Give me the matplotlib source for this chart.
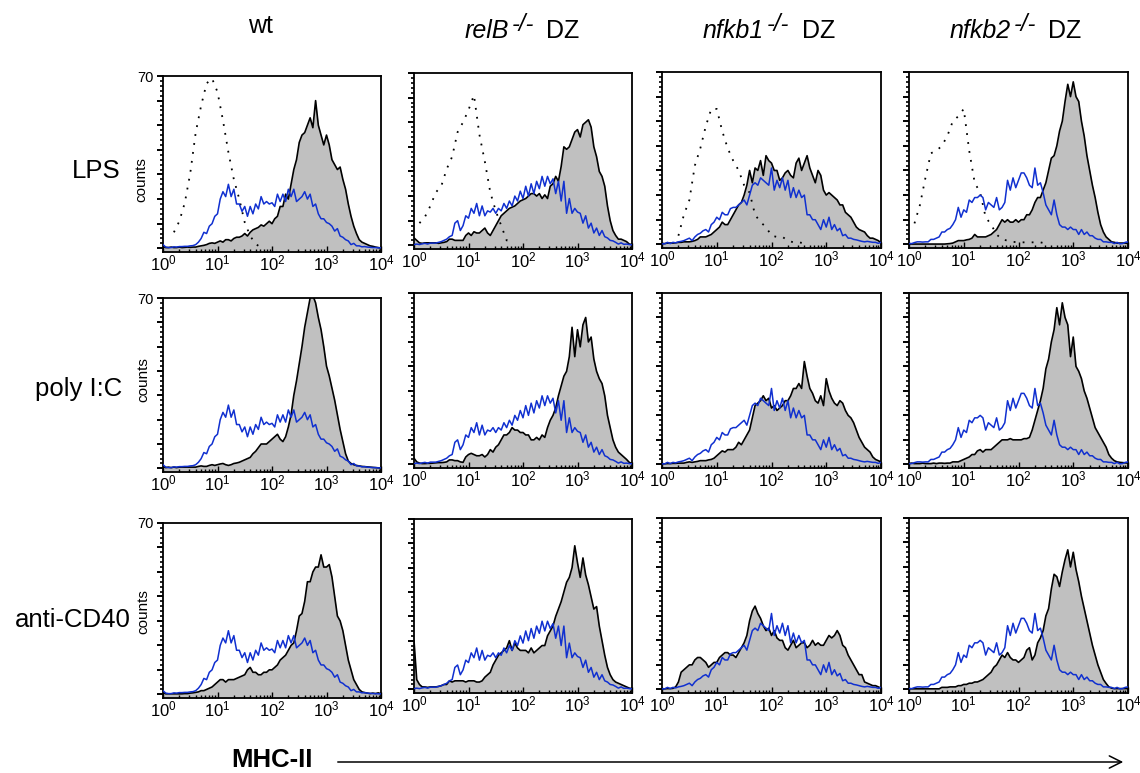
import numpy as np
import matplotlib
matplotlib.use('Agg')
import matplotlib.pyplot as plt
from matplotlib.patches import FancyArrowPatch
from matplotlib.ticker import FixedLocator, NullFormatter

plt.rcParams['font.family'] = ['Liberation Sans', 'DejaVu Sans']
plt.rcParams['mathtext.fontset'] = 'custom'
plt.rcParams['mathtext.rm'] = 'Liberation Sans'

W, H = 1140, 773

# all histograms read every 0.05 decade from 10^0 to 10^4
# blue control is the same in each column
blue_wt = [1.5, .5, .3, .3, .6, .5, .7, .7, .8, .8, 1, 1.1, 1.5, 2.5, 4, 6.5, 6, 9, 10, 13, 14, 20, 23, 21, 26, 21, 24, 18, 18, 15, 17, 13, 17, 14, 18, 16, 21, 18, 19, 18, 18.5, 17, 22, 19, 22, 19, 24, 21, 24, 19, 20, 21, 23, 20, 22, 17, 18, 14, 12, 12, 10.5, 10, 9, 7, 8, 5, 4.5, 3.5, 3, 1.5, 2, 1, 1, .6, .7, .5, .4, .3, .3, .2, .2]
blue_relb = [.3, .5, .3, .6, .8, .5, .9, .9, .9, 1.2, 1.5, 2, 2.5, 3.5, 4, 9, 10, 6, 8, 12, 11, 15, 13, 17, 12, 16, 12, 14, 13.5, 15, 13, 15, 14, 17, 15, 18, 16, 20, 18, 22, 19, 24, 20, 25, 21, 26, 23, 28, 24, 28, 25, 27, 21, 26, 18, 26, 13, 19, 13, 15, 13.5, 13, 9, 12, 7, 9, 5, 7, 4, 6, 3.5, 3, 2, 1.8, 1.2, .5, 1, .4, .5, .3, .2]
blue_nfkb1 = [.2, .2, .8, .3, .8, .6, 1, 1.2, 1.5, 2, 2.5, 1.5, 3, 4, 4.5, 5.5, 6, 5, 8, 9, 11, 10, 13, 12, 12, 14.5, 15, 15, 16, 17, 18, 16, 20, 24, 25, 24, 27, 26, 25, 24, 31, 22, 26, 23, 27, 22, 26, 19, 23, 19, 22, 19, 20, 12, 12, 10, 10, 8, 6, 10, 7, 11, 6, 8, 5.5, 6.5, 3.5, 4, 2.5, 2.5, 2, 1.8, 1.5, 1.2, 1, 1.2, 1, .8, .8, .4, .8]
blue_nfkb2 = [.3, .3, .7, 1, 1, .9, 1, 1, 2, 2, 2.5, 3, 5, 5, 6, 6.5, 8, 10, 15, 11, 14, 13, 18, 17, 19, 19, 20, 19, 14, 17, 16, 15, 19, 14, 15, 17, 26, 22, 27, 23, 26, 29, 29, 27, 24, 23, 31, 24, 25, 21, 16, 14, 12, 18, 12, 8, 7, 7, 6, 7, 6, 6, 4, 6, 4, 5, 3.5, 3.5, 2.5, 2, 2, 1, 1, .8, .8, .3, .8, .2, .3, .8, 1]

# grey filled histograms
lps_wt = [.8, .3, .3, .5, .3, .3, .5, .3, .4, .5, .4, .5, .5, .8, 1, 1.2, 1.5, 2, 2.2, 2, 2.5, 3, 2.5, 3.5, 3.5, 3, 4, 4.5, 4.5, 5, 6, 5, 6.5, 7.5, 8, 8.5, 9.5, 9, 10, 11, 10, 12, 13, 17, 17, 22, 20, 26, 32, 36, 43, 46, 47, 50, 53, 49, 60, 50, 46, 42, 46, 42, 36, 34, 32, 33, 28, 24, 18, 13, 9, 6, 3.5, 2.5, 2, 1.5, 1, .8, .5, .3, .1]
lps_relb = [3, 2, 1, .8, 1, 1, 1, 1, 1, .8, 1, 1.2, 1.5, 2.5, 2.5, 2, 2, 2, 2, 4, 5, 4, 5.5, 5, 5, 6, 7, 5, 4, 6, 8, 10, 12, 13, 14, 15, 15.5, 16, 17, 18, 18.5, 19, 20, 21, 21, 20, 21, 19, 20.5, 19, 24, 25, 28, 26, 32, 40, 39, 40, 43, 46, 47, 44, 49, 50, 51, 48, 40, 36, 30, 28, 24, 16, 10, 6, 4, 2.5, 2.5, 2, 1.5, .5, .3]
lps_nfkb1 = [.3, .3, .5, .5, .5, .6, .8, .8, 1, 1, 1, 1.2, 1.5, 2, 3, 3, 3, 3.5, 4, 5, 6, 7, 9, 8, 8, 10, 12, 14, 16, 17, 20, 24, 30, 25, 31, 30, 34, 28, 36, 34, 33, 30, 30, 26, 27, 29, 30, 28, 27, 33, 35, 30, 33, 36, 31, 28, 25, 30, 28, 22, 20, 21, 20, 19, 18, 16, 16, 13, 12, 11, 9, 7, 6, 5.5, 5, 3.5, 2.5, 2.5, 2, 1.5, .6]
lps_nfkb2 = [.1, .1, .1, .1, .1, .1, .1, .1, .1, .1, .1, .1, .1, .1, .2, .3, .5, 1, 1.5, 1.5, 1.5, 1.8, 2, 2.5, 4, 3, 3, 3, 3, 3.5, 4, 5, 6, 8, 10, 9, 10, 9, 9, 10, 9, 10, 10, 12, 12, 14, 17, 19, 19, 22, 25, 30, 35, 36, 40, 46, 50, 58, 65, 60, 66, 60, 58, 50, 44, 36, 30, 24, 19, 13, 8, 5, 3, 2, 1, .8, .5, .5, .5, .5, .3]
poly_wt = [.8, .3, .5, .3, .5, .3, .5, .5, .5, .5, .5, .5, .5, .8, 1, .8, .8, 1.2, 1.5, 1.2, 1.5, 1.8, 2, 1.5, 1.2, 1.5, 2, 2.2, 2.5, 3, 3.5, 4, 4.5, 6, 7, 8.5, 10, 10, 10, 11, 12, 13, 14, 12, 11, 13, 17, 22, 30, 36, 43, 50, 58, 64, 70, 71, 68, 62, 57, 50, 42, 38, 33, 28, 22, 16, 11, 6, 3, 2, 1.5, 1.2, 1, .8, .7, .6, .5, .4, .3, .2, .1]
poly_relb = [2.5, 1, .5, .3, .3, .4, .4, .5, .6, .7, .7, .8, 1, 1.8, 1.8, 1.5, 1.5, 1, .8, 3, 4, 4.5, 4, 3.5, 3.5, 4, 3, 4, 6, 5, 7, 8, 10, 12, 12, 13, 15, 14, 14, 13, 13, 12, 12, 10, 10, 11, 10, 12, 11, 15, 18, 20, 23, 28, 32, 36, 38, 44, 56, 44, 55, 48, 57, 60, 50, 52, 43, 38, 35, 33, 28, 20, 15, 10, 7, 5, 4, 3, 2, .8, .3]
poly_nfkb1 = [.2, .2, .3, .3, .4, .4, .5, .5, .5, .8, 1, .8, 1, 1.2, 1.5, 1.5, 1.5, 1.8, 2, 2.5, 3.5, 4.5, 5.5, 5, 6, 6, 6, 7, 9, 8, 10, 12, 14, 19, 24, 25, 26, 28, 26, 27, 23, 24, 22, 23, 24, 26, 26, 28, 31, 31, 33, 31, 42, 36, 31, 29, 26, 25, 28, 24, 35, 30, 27, 25, 24, 26, 25, 22, 20, 19, 17, 14, 11, 9, 7, 6, 5, 3, 2, 1.5, 1]
poly_nfkb2 = [.3, .5, .3, .3, .3, .5, .3, .3, .3, .5, .3, .5, .5, .4, .5, .5, 1, 1, 1, 1.5, 2, 2.5, 3, 4, 4, 5.5, 6, 5, 6, 6, 6, 7, 8, 9, 10, 10, 10, 10.5, 10, 10, 10, 10, 10.5, 10.5, 11, 14, 18, 22, 26, 31, 39, 43, 50, 55, 64, 57, 66, 60, 57, 44, 52, 40, 38, 35, 30, 27, 23, 19, 15, 13, 11, 9, 7, 4, 2.5, 1.5, 1, .8, .7, .6, .5]
cd40_wt = [.8, .2, .2, .2, .2, .2, .2, .2, .3, .3, .5, .6, .8, 1, 1.5, 1.5, 2, 2.5, 3, 4, 5, 6, 6, 5, 6, 6, 6, 6.5, 7, 7.5, 8, 10, 11, 9, 9, 8, 8, 9, 9, 10, 10, 11, 12, 14, 15, 16, 18, 20, 21, 26, 32, 33, 38, 46, 46, 50, 52, 52, 57, 52, 52, 53, 48, 40, 32, 30, 26, 20, 14, 10, 6, 4, 2, 1, .7, .5, .3, .5, .3, .6, .2]
cd40_relb = [20, 4, 2, 1, 1, .8, 1, 1, 1, 1.2, 1.5, 2, 2, 3.5, 3, 3.5, 3.5, 3.5, 3.5, 3, 3.5, 3.5, 3.5, 3, 3, 3.5, 5, 6, 7, 10, 12, 14, 15, 16, 17, 20, 16, 19, 17, 16, 16, 16, 15, 17, 15, 16, 17, 18, 18, 22, 24, 26, 30, 33, 36, 40, 44, 46, 50, 59, 52, 46, 54, 47, 43, 38, 33, 34, 26, 20, 14, 9, 6, 4, 3, 2.5, 2, 1.5, 1, .5, .3]
cd40_nfkb1 = [.1, .2, .3, .3, .4, 1, 3, 7, 8, 9, 10, 10, 12, 13, 13, 12, 11, 9, 10, 11, 11, 13, 14, 15, 15, 14, 14, 13, 15, 17, 19, 22, 28, 32, 34, 31, 29, 26, 24, 25, 22, 24, 21, 20, 20, 17, 16, 18, 20, 17, 18, 19, 19, 17, 18, 20, 18, 19, 18, 18, 20, 22, 21, 22, 24, 22, 18, 17, 14, 12, 10, 8, 6, 6, 3, 2.5, 2, 1.5, 1.5, 1, .5]
cd40_nfkb2 = [.2, .2, .2, .2, .2, .2, .2, .2, .2, .2, .2, .2, .8, .8, .8, 1, 1, 1, 1.5, 1.5, 2, 2, 2.5, 2.5, 3, 3, 3.5, 4, 5, 6, 7, 9, 10, 12, 14, 13, 15, 13, 12, 12, 11, 12, 13, 16, 17, 12, 14, 19, 21, 24, 30, 33, 41, 47, 46, 42, 48, 53, 57, 50, 56, 49, 44, 38, 33, 28, 23, 18, 14, 10, 7, 4, 2.4, 1, .5, .3, .3, .3, .3, .3, .3]

# dotted isotype curves, read every 0.1 decade, only the part that is visible
dot_wt = [6.5, 11, 18.5, 30.5, 47, 58, 67, 69, 63.5, 52, 39, 28, 20, 10.5, 5, 1.7, .4]
dot_relb = [9, 11.5, 16, 21.5, 24, 31, 36, 46, 50, 55, 61, 45, 34, 21.5, 14, 8, 2, 2]
dot_nfkb1 = [3.5, 12, 18, 32, 39, 48, 55, 55, 46, 39, 34, 30, 24, 21, 12, 9, 7, 3.5, 3, 3, 1.5, .8, .8, .4]
dot_nfkb2 = [8.5, 16, 27, 37, 38, 40, 44, 50, 52, 55, 38, 25, 21, 11, 8, 4, 2, 1.5, 1, .8, .8, .8, .8, .8, .3]
dot_start = {'wt': 2, 'relb': 1, 'nfkb1': 3, 'nfkb2': 1}

columns = ['wt', 'relb', 'nfkb1', 'nfkb2']
blues = {'wt': blue_wt, 'relb': blue_relb, 'nfkb1': blue_nfkb1, 'nfkb2': blue_nfkb2}
dots = {'wt': dot_wt, 'relb': dot_relb, 'nfkb1': dot_nfkb1, 'nfkb2': dot_nfkb2}
fills = [[lps_wt, lps_relb, lps_nfkb1, lps_nfkb2],
         [poly_wt, poly_relb, poly_nfkb1, poly_nfkb2],
         [cd40_wt, cd40_relb, cd40_nfkb1, cd40_nfkb2]]
row_names = ['LPS', 'poly I:C', 'anti-CD40']
gene_names = ['relB', 'nfkb1', 'nfkb2']
decade_labels = [r'$\mathregular{10^{%d}}$' % i for i in range(5)]

# panel frames in pixels: left, right, top, bottom
col_x = [(163, 381), (414, 632), (662, 881), (909, 1128)]
row_y = [[(76, 252), (73, 249), (72, 248), (72, 248)],
         [(298, 472), (293, 468), (293, 468), (293, 468)],
         [(523, 698), (519, 693), (518, 693), (518, 693)]]


def px_axes(fig, left, right, top, bottom):
    return fig.add_axes([left / W, 1 - bottom / H, (right - left) / W, (bottom - top) / H])


def px_text(fig, px, py, s, **kw):
    return fig.text(px / W, 1 - py / H, s, **kw)


fig = plt.figure(figsize=(W / 100, H / 100), dpi=100)
x_dot = np.logspace(0, 4, 41)

for r in range(3):
    for c in range(4):
        name = columns[c]
        left, right = col_x[c]
        top, bottom = row_y[r][c]
        ax = px_axes(fig, left, right, top, bottom)
        y = np.array(fills[r][c])
        x = np.logspace(0, 4, len(y))
        ax.fill_between(x, y, -2, color='#c0c0c0', lw=0, zorder=1)
        ax.plot(x, y, color='black', lw=1.2, zorder=2)
        if r == 0:
            d = dots[name]
            s = dot_start[name]
            ax.plot(x_dot[s:s + len(d)], d, color='black', lw=1.3, ls=(0, (1, 4)), zorder=3)
        b = blues[name]
        ax.plot(np.logspace(0, 4, len(b)), b, color='#1030d0', lw=1.1, zorder=4)

        ax.set_xscale('log')
        ax.set_xlim(1, 1e4)
        ax.set_ylim(-1.5, 70)
        ax.set_xticks([1, 10, 100, 1000, 10000])
        ax.set_xticklabels(decade_labels)
        ax.xaxis.set_minor_locator(FixedLocator([m * 10 ** e for e in range(4) for m in range(2, 10)]))
        ax.xaxis.set_minor_formatter(NullFormatter())
        ax.tick_params(axis='x', which='major', direction='in', length=4, width=1, labelsize=12, pad=1)
        ax.tick_params(axis='x', which='minor', direction='in', length=2, width=1)
        ax.set_yticks(range(0, 71, 10))
        ax.yaxis.set_minor_locator(FixedLocator(range(0, 71, 2)))
        ax.tick_params(axis='y', which='major', direction='out', length=4.5, width=1.4)
        ax.tick_params(axis='y', which='minor', direction='out', length=2.5, width=1.2)
        if c == 0:
            ax.set_yticklabels(['70' if v == 70 else '' for v in range(0, 71, 10)])
            ax.tick_params(axis='y', which='major', labelsize=10.5, pad=2)
        else:
            ax.set_yticklabels([])
        for sp in ax.spines.values():
            sp.set_linewidth(1.3)

# counts labels
for px, py in zip([141, 143, 143], [180, 380, 612]):
    px_text(fig, px, py, 'counts', fontsize=11, rotation=90, ha='center', va='center')

# headers
px_text(fig, 260, 26, 'wt', fontsize=18, ha='center', va='center')
starts = [465, 703, 950]
sup_at = [512, 767, 1014]
ends = [579, 835, 1081]
for g, a, b, e in zip(gene_names, starts, sup_at, ends):
    px_text(fig, a, 38, g, fontsize=18, style='italic', ha='left', va='baseline')
    px_text(fig, b, 31, '-/-', fontsize=17, style='italic', ha='left', va='baseline')
    px_text(fig, e, 38, 'DZ', fontsize=18, ha='right', va='baseline')

# row names
for t, xr, yc in zip(row_names, [120, 122, 131], [171, 389, 620]):
    px_text(fig, xr, yc, t, fontsize=18.5, ha='right', va='center')

px_text(fig, 231, 760, 'MHC-II', fontsize=18.5, fontweight='bold', ha='left', va='center')
fig.add_artist(FancyArrowPatch((335 / W, 1 - 762 / H), (1126 / W, 1 - 762 / H),
                               transform=fig.transFigure, arrowstyle='->', mutation_scale=22, lw=1.1, color='black'))

fig.savefig('out.png', dpi=100)
